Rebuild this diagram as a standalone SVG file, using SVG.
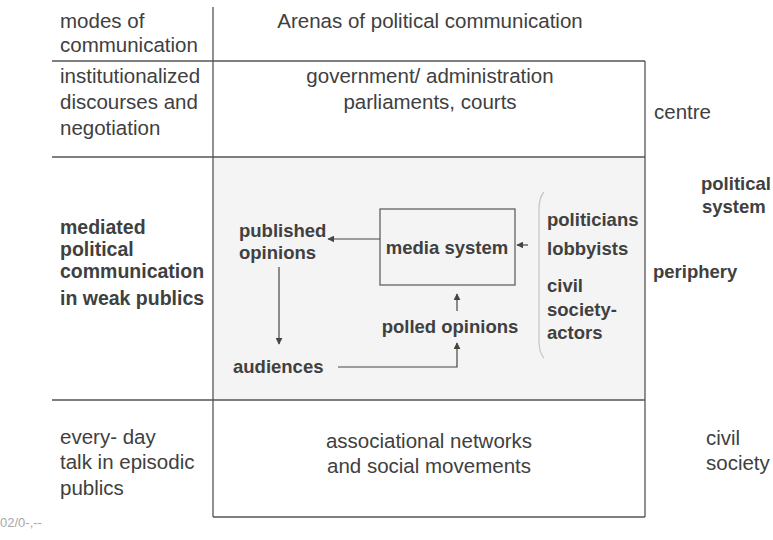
<svg xmlns="http://www.w3.org/2000/svg" width="773" height="540" viewBox="0 0 773 540">
  <style>
    .reg { font-family: "Liberation Sans", Arial, sans-serif; font-size: 20.5px; fill: #404040; }
    .bold { font-family: "Liberation Sans", Arial, sans-serif; font-size: 18.5px; font-weight: bold; fill: #404040; }
    .boldL { font-family: "Liberation Sans", Arial, sans-serif; font-size: 19.5px; font-weight: bold; fill: #404040; }
    .mid { text-anchor: middle; }
    .grid { stroke: #555; stroke-width: 1.3; fill: none; }
    .conn { stroke: #444; stroke-width: 1.2; fill: none; }
    .note { font-family: "Liberation Sans", Arial, sans-serif; font-size: 13px; fill: #a8a8a8; }
  </style>
  <defs>
    <marker id="arrow" viewBox="0 0 10 10" refX="9" refY="5" markerWidth="7" markerHeight="7" markerUnits="userSpaceOnUse" orient="auto">
      <path d="M0,0 L10,5 L0,10 z" fill="#444"/>
    </marker>
  </defs>

  <rect width="773" height="540" fill="#ffffff"/>

  <!-- table grid -->
  <g id="grid">
    <rect x="213" y="157" width="432" height="243" fill="#f4f4f4"/>
    <line class="grid" x1="213" y1="7" x2="213" y2="517"/>
    <line class="grid" x1="52" y1="61" x2="645" y2="61"/>
    <line class="grid" x1="52" y1="157" x2="645" y2="157"/>
    <line class="grid" x1="52" y1="400" x2="645" y2="400"/>
    <line class="grid" x1="645" y1="61" x2="645" y2="517"/>
    <line class="grid" x1="213" y1="517" x2="645" y2="517"/>
  </g>

  <!-- header row -->
  <g id="header-modes">
    <text class="reg" x="60" y="28">modes of</text>
    <text class="reg" x="60" y="52">communication</text>
  </g>
  <g id="header-arenas">
    <text class="reg mid" x="430" y="28">Arenas of political communication</text>
  </g>

  <!-- institutional row -->
  <g id="mode-institutionalized">
    <text class="reg" x="60" y="83">institutionalized</text>
    <text class="reg" x="60" y="109">discourses and</text>
    <text class="reg" x="60" y="135">negotiation</text>
  </g>
  <g id="arena-government">
    <text class="reg mid" x="430" y="83">government/ administration</text>
    <text class="reg mid" x="430" y="109">parliaments, courts</text>
  </g>
  <g id="label-centre">
    <text class="reg" x="654" y="119">centre</text>
  </g>

  <!-- mediated row -->
  <g id="mode-mediated">
    <text class="boldL" x="60" y="234">mediated</text>
    <text class="boldL" x="60" y="256">political</text>
    <text class="boldL" x="60" y="278">communication</text>
    <text class="boldL" x="60" y="305">in weak publics</text>
  </g>
  <g id="published-opinions">
    <text class="bold" x="239" y="237">published</text>
    <text class="bold" x="239" y="259">opinions</text>
  </g>
  <g id="media-system">
    <rect x="380" y="209" width="135" height="76" fill="none" stroke="#555" stroke-width="1.2"/>
    <text class="bold mid" x="447" y="254">media system</text>
  </g>
  <g id="polled-opinions">
    <text class="bold mid" x="450" y="333">polled opinions</text>
  </g>
  <g id="audiences">
    <text class="bold" x="233" y="373">audiences</text>
  </g>
  <g id="actors">
    <path d="M544,192 Q539,197 539,210 L539,340 Q539,353 544,358" fill="none" stroke="#c4c4c4" stroke-width="1.2"/>
    <text class="bold" x="547" y="226">politicians</text>
    <text class="bold" x="547" y="255">lobbyists</text>
    <text class="bold" x="547" y="292">civil</text>
    <text class="bold" x="547" y="316">society-</text>
    <text class="bold" x="547" y="339">actors</text>
  </g>
  <g id="label-political-system">
    <text class="bold" x="701" y="190">political</text>
    <text class="bold" x="702" y="213">system</text>
  </g>
  <g id="label-periphery">
    <text class="bold" x="653" y="278">periphery</text>
  </g>

  <!-- everyday row -->
  <g id="mode-everyday">
    <text class="reg" x="60" y="444">every- day</text>
    <text class="reg" x="60" y="469">talk in episodic</text>
    <text class="reg" x="60" y="495">publics</text>
  </g>
  <g id="arena-associations">
    <text class="reg mid" x="429" y="448">associational networks</text>
    <text class="reg mid" x="429" y="473">and social movements</text>
  </g>
  <g id="label-civil-society">
    <text class="reg" x="706" y="445">civil</text>
    <text class="reg" x="706" y="470">society</text>
  </g>

  <!-- arrows -->
  <g id="connectors">
    <line class="conn" x1="380" y1="239" x2="328" y2="239" marker-end="url(#arrow)"/>
    <line class="conn" x1="528" y1="245" x2="517" y2="245" marker-end="url(#arrow)"/>
    <line class="conn" x1="279" y1="267" x2="279" y2="344" marker-end="url(#arrow)"/>
    <polyline class="conn" points="338,367 457,367 457,343" marker-end="url(#arrow)"/>
    <line class="conn" x1="457" y1="311" x2="457" y2="294" marker-end="url(#arrow)"/>
  </g>

  <!-- footer -->
  <text class="note" x="0" y="527">02/0-,--</text>
</svg>
